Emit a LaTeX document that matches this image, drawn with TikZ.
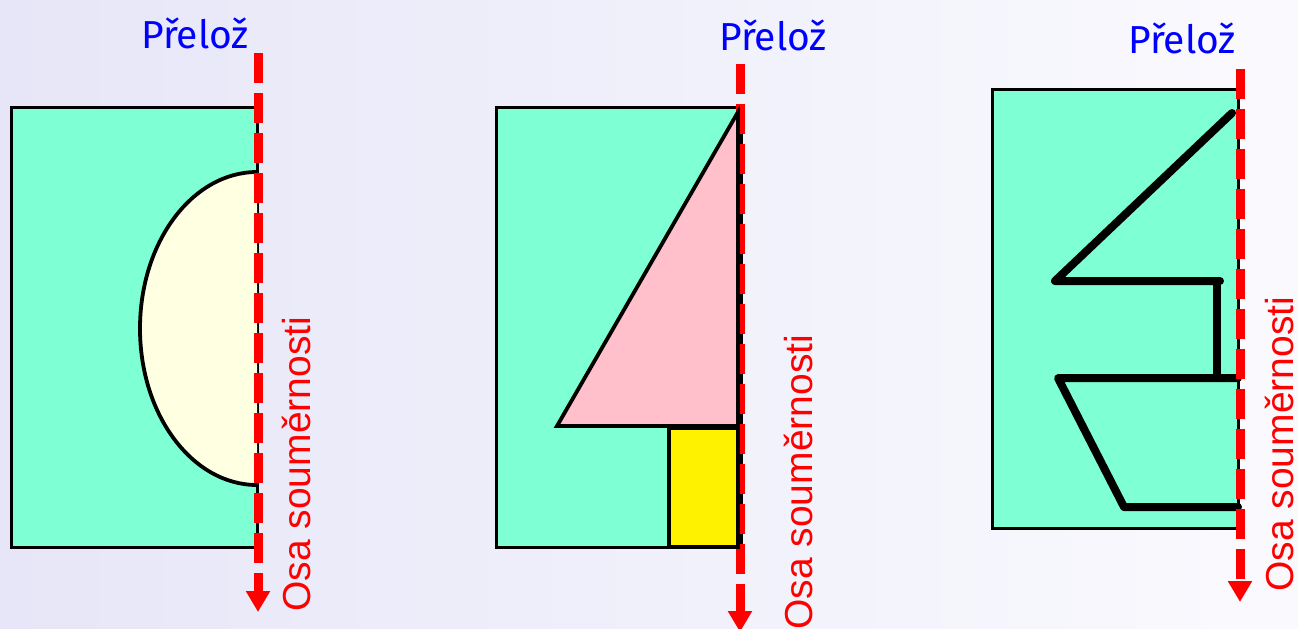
\documentclass[tikz,border=0pt]{standalone}
\usepackage{fontspec}
\usetikzlibrary{arrows.meta}
\newfontfamily\foldfont{Fira Sans}
\newfontfamily\axisfont{Liberation Sans}
\definecolor{sheet_green}{RGB}{127,255,212}
\definecolor{half_moon}{RGB}{255,255,226}
\definecolor{sail_pink}{RGB}{255,192,203}
\definecolor{bg_left}{RGB}{230,230,248}
\definecolor{bg_right}{RGB}{250,250,254}
\tikzset{
    sheet/.style = {
        draw=black,
        fill=sheet_green,
        line width=1.5pt
    },
    shape_line/.style = {
        draw=black,
        line width=1.9pt
    },
    boat_line/.style = {
        draw=black,
        line width=4pt,
        line cap=round,
        line join=round
    },
    fold_axis/.style = {
        draw=red,
        line width=4.5pt,
        dash pattern=on 15pt off 5pt,
        -{Triangle[width=11.5pt,length=10.5pt]}
    },
    fold_label/.style = {
        text=blue,
        font=\foldfont\fontsize{19.5}{22}\selectfont,
        anchor=base,
        inner sep=0pt
    },
    axis_label/.style = {
        text=red,
        font=\axisfont\fontsize{19.5}{22}\selectfont,
        rotate=90,
        anchor=base west,
        inner sep=0pt
    },
}
\begin{document}
\begin{tikzpicture}[x=0.5pt, y=-0.5pt]
    \clip (0,0) rectangle (1298,628);
    \path[left color=bg_left, right color=bg_right] (0,0) rectangle (1298,628);

    % first sheet: half ellipse
    \begin{scope}
        \path[sheet] (11,107) rectangle (257,547);
        \begin{scope}
            \clip (0,0) rectangle (257,628);
            \path[shape_line, fill=half_moon] (257,328.5) ellipse [x radius=117, y radius=156.5];
        \end{scope}
        \path[fold_axis] (258,53) -- (258,612);
        \node[fold_label] (fold_one) at (195,48) {Přelož};
        \node[axis_label] (axis_one) at (310,612) {Osa souměrnosti};
    \end{scope}

    % second sheet: tree
    \begin{scope}
        \path[sheet] (496,107) rectangle (741,547);
        \path[fold_axis] (740,64) -- (740,632);
        \path[shape_line, fill=sail_pink] (738,112) -- (557,426) -- (738,426) -- cycle;
        \path[shape_line, fill=yellow] (669,428) rectangle (738,547);
        \node[fold_label] (fold_two) at (773,50) {Přelož};
        \node[axis_label] (axis_two) at (812,630) {Osa souměrnosti};
    \end{scope}

    % third sheet: boat
    \begin{scope}
        \path[sheet] (992,89) rectangle (1238,528);
        \path[boat_line] (1232,113) -- (1055,281) -- (1220,281);
        \path[boat_line] (1217,281) -- (1217,378);
        \path[boat_line] (1238,378) -- (1058,378) -- (1124,507) -- (1238,507);
        \path[fold_axis] (1240,69) -- (1240,602);
        \node[fold_label] (fold_three) at (1182,53) {Přelož};
        \node[axis_label] (axis_three) at (1293,592) {Osa souměrnosti};
    \end{scope}
\end{tikzpicture}
\end{document}
